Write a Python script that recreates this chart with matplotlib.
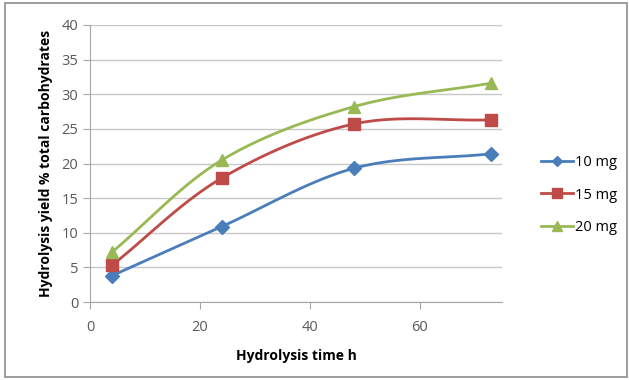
import numpy as np
import matplotlib
matplotlib.use("Agg")
import matplotlib.pyplot as plt
from matplotlib.patches import Rectangle

time_h = [4, 24, 48, 73]
y_10mg = [3.8, 10.9, 19.3, 21.4]
y_15mg = [5.3, 17.9, 25.7, 26.3]
y_20mg = [7.2, 20.5, 28.2, 31.6]
labels = ["10 mg", "15 mg", "20 mg"]
colors = ["#4a7ebb", "#be4b48", "#98b954"]
markers = ["D", "s", "^"]
msizes = [7, 9, 9]


def smooth(x, y, n=40):
    # Catmull-Rom style smoothing (Excel-like smoothed line)
    x = np.asarray(x, float); y = np.asarray(y, float)
    px = np.concatenate([[2*x[0]-x[1]], x, [2*x[-1]-x[-2]]])
    py = np.concatenate([[2*y[0]-y[1]], y, [2*y[-1]-y[-2]]])
    xs, ys = [], []
    for i in range(1, len(px) - 2):
        t = np.linspace(0, 1, n)
        for arr, out in ((px, xs), (py, ys)):
            p0, p1, p2, p3 = arr[i-1], arr[i], arr[i+1], arr[i+2]
            out.append(0.5*((2*p1) + (-p0+p2)*t + (2*p0-5*p1+4*p2-p3)*t**2 + (-p0+3*p1-3*p2+p3)*t**3))
    return np.concatenate(xs), np.concatenate(ys)


plt.rcParams['font.family'] = ['Open Sans', 'DejaVu Sans']
W, H = 629, 380
fig = plt.figure(figsize=(W/100, H/100), dpi=100)
fig.patches.append(Rectangle((5/W, 3/H), 622/W, 374/H, transform=fig.transFigure,
                             fill=False, edgecolor="#8c8c8c", lw=1.2))
ax = fig.add_axes([90/W, 1-302/H, (502-90)/W, (302-25)/H])

for ys, lab, c, m, ms in zip([y_10mg, y_15mg, y_20mg], labels, colors, markers, msizes):
    sx, sy = smooth(time_h, ys)
    ax.plot(sx, sy, color=c, lw=2, zorder=3)
    ax.plot(time_h, ys, linestyle="none", marker=m, color=c, ms=ms, zorder=4)
    ax.plot([], [], color=c, lw=2, marker=m, ms=ms*0.8, label=lab)

ax.set_xlim(0, 75)
ax.set_ylim(0, 40)
ax.set_xticks([0, 20, 40, 60])
ax.set_yticks(range(0, 41, 5))
ax.grid(axis="y", color="#c8c8c8", lw=1)
ax.set_axisbelow(True)
for s in ["top", "right"]:
    ax.spines[s].set_visible(False)
for s in ["left", "bottom"]:
    ax.spines[s].set_color("#a6a6a6")
ax.tick_params(axis="both", colors="#a6a6a6", labelcolor="#595959", labelsize=10.5, length=5, direction="out")
ax.tick_params(axis="x", pad=8)
ax.set_xlabel("Hydrolysis time h", fontsize=10, fontweight="bold", labelpad=10)
ax.set_ylabel("Hydrolysis yield % total carbohydrates", fontsize=10, fontweight="bold", labelpad=6)

ax.legend(loc="center left", bbox_to_anchor=(528/W, 1-195/H), bbox_transform=fig.transFigure,
          frameon=False, fontsize=10.5, handlelength=2.2, handletextpad=0.1, labelspacing=1.2)

fig.savefig("out.png", dpi=100)
